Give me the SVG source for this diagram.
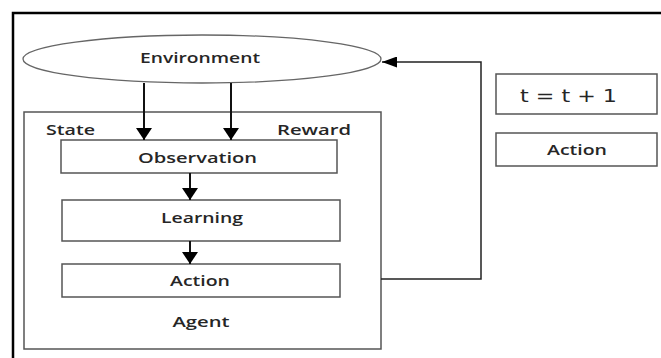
<svg xmlns="http://www.w3.org/2000/svg" width="661" height="358" viewBox="0 0 661 358">
<defs>
<style>
.box{fill:#fff;stroke:#555;stroke-width:1.5}
.lbl{font-family:"Open Sans","Liberation Sans",sans-serif;font-size:15px;font-weight:600;fill:#262626;text-anchor:middle}
.math{font-family:"DejaVu Sans","Liberation Sans",sans-serif;font-size:17px;font-weight:normal}
.con{fill:none;stroke:#111;stroke-width:2}
.thin{fill:none;stroke:#222;stroke-width:1.5}
</style>
<marker id="ahb" viewBox="0 0 12 16" refX="12" refY="8" markerWidth="12" markerHeight="16" markerUnits="userSpaceOnUse" orient="auto">
<path d="M0,0 L12,8 L0,16 Z" fill="#000"/>
</marker>
<marker id="ahf" viewBox="0 0 15 11" refX="15" refY="5.5" markerWidth="15" markerHeight="11" markerUnits="userSpaceOnUse" orient="auto">
<path d="M0,0 L15,5.5 L0,11 Z" fill="#000"/>
</marker>
</defs>
<rect width="661" height="358" fill="#fff"/>
<path d="M13,358 V13 H661" fill="none" stroke="#000" stroke-width="2.5"/>
<g id="agent">
<rect class="box" x="24" y="112" width="357" height="237"/>
<text class="lbl" x="201" y="327" textLength="57" lengthAdjust="spacingAndGlyphs">Agent</text>
<text class="lbl" x="70.5" y="135" textLength="49" lengthAdjust="spacingAndGlyphs">State</text>
<text class="lbl" x="314" y="135" textLength="74" lengthAdjust="spacingAndGlyphs">Reward</text>
</g>
<g id="environment">
<ellipse cx="202" cy="59" rx="179" ry="24" fill="#fff" stroke="#666" stroke-width="1.3"/>
<text class="lbl" x="200" y="63" textLength="120" lengthAdjust="spacingAndGlyphs">Environment</text>
</g>
<g id="observation">
<rect class="box" x="61" y="140" width="276" height="33"/>
<text class="lbl" x="197.5" y="162.5" textLength="119" lengthAdjust="spacingAndGlyphs">Observation</text>
</g>
<g id="learning">
<rect class="box" x="62" y="200" width="278" height="41"/>
<text class="lbl" x="202" y="222.5" textLength="82" lengthAdjust="spacingAndGlyphs">Learning</text>
</g>
<g id="action">
<rect class="box" x="62" y="264" width="278" height="33"/>
<text class="lbl" x="200" y="286" textLength="60" lengthAdjust="spacingAndGlyphs">Action</text>
</g>
<g id="time-step">
<rect class="box" x="496" y="74" width="161" height="40"/>
<text class="lbl math" x="568.5" y="102" textLength="97" lengthAdjust="spacingAndGlyphs">t = t + 1</text>
</g>
<g id="action-legend">
<rect class="box" x="496" y="133" width="161" height="33"/>
<text class="lbl" x="577" y="155" textLength="60" lengthAdjust="spacingAndGlyphs">Action</text>
</g>
<g id="connectors">
<line class="con" x1="144" y1="83" x2="144" y2="140" marker-end="url(#ahb)"/>
<line class="con" x1="231" y1="83" x2="231" y2="140" marker-end="url(#ahb)"/>
<line class="con" x1="190" y1="173" x2="190" y2="200" marker-end="url(#ahb)"/>
<line class="con" x1="190" y1="241" x2="190" y2="264" marker-end="url(#ahb)"/>
<path class="thin" d="M381,279 H481 V62 H382" marker-end="url(#ahf)"/>
</g>
</svg>
